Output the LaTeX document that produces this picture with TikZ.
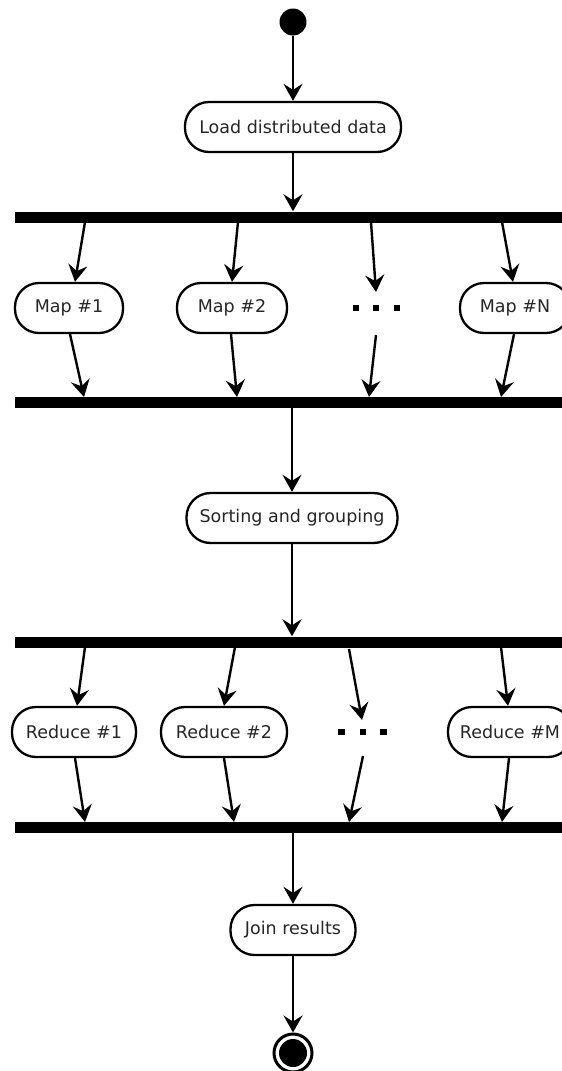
\documentclass[tikz,border=0pt]{standalone}
\usepackage{fontspec}
\setmainfont{DejaVu Sans}
\usetikzlibrary{arrows.meta,calc}
\begin{document}
\begin{tikzpicture}[x=1pt,y=-1pt,
  act/.style={draw,line width=2.3pt,rounded corners=24pt,minimum height=50pt,inner sep=0pt,
              font=\fontsize{17.5}{20}\selectfont,text=black!85},
  bar/.style={fill=black,inner sep=0pt,minimum height=11pt,minimum width=547pt},
  arr/.style={line width=2.4pt,-{Stealth[length=17pt,width=19pt,inset=6pt]}},
  dotsq/.style={fill=black,inner sep=0pt,minimum size=6.5pt}]
\useasboundingbox (0,0) rectangle (562,1071);
\clip (0,0) rectangle (562,1071);

% start
\node[circle,fill=black,minimum size=27pt,inner sep=0pt] (start) at (293,22) {};
\node[act,minimum width=216pt] (load) at (293,127) {Load distributed data};

% bars
\node[bar] (bar1) at (288.5,217) {};
\node[bar] (bar2) at (288.5,402) {};
\node[bar] (bar3) at (288.5,642) {};
\node[bar] (bar4) at (288.5,827) {};

% map nodes
\node[act,minimum width=108pt] (map1) at (69,308) {Map \#1};
\node[act,minimum width=110pt] (map2) at (232,308) {Map \#2};
\node[act,minimum width=110pt] (mapN) at (515,308) {Map \#N};
\node[dotsq] (d1a) at (356,308) {};
\node[dotsq] (d1b) at (376,308) {};
\node[dotsq] (d1c) at (397,308) {};

\node[act,minimum width=211pt] (sort) at (292,518) {Sorting and grouping};

% reduce nodes
\node[act,minimum width=124pt] (red1) at (74,732) {Reduce \#1};
\node[act,minimum width=126pt] (red2) at (224,732) {Reduce \#2};
\node[act,minimum width=124pt] (redM) at (510,732) {Reduce \#M};
\node[dotsq] (d2a) at (341.5,732) {};
\node[dotsq] (d2b) at (363,732) {};
\node[dotsq] (d2c) at (383.5,732) {};

\node[act,minimum width=125pt] (join) at (293,930) {Join results};

% end
\node[circle,draw=black,line width=3pt,minimum size=38pt,inner sep=0pt] (endo) at (293,1053) {};
\node[circle,fill=black,minimum size=28pt,inner sep=0pt] (endi) at (293,1053) {};

% coordinates on bars / near dots
\coordinate (b1a) at (85,222);
\coordinate (b1b) at (238,222);
\coordinate (b1c) at (371,222);
\coordinate (b1d) at (502,222);
\coordinate (d1top) at (376,292);
\coordinate (d1bot) at (376,335);
\coordinate (b2a) at (84,397);
\coordinate (b2b) at (237,397);
\coordinate (b2c) at (369,397);
\coordinate (b2d) at (501,397);

\coordinate (b3a) at (85,647);
\coordinate (b3b) at (235,647);
\coordinate (b3c) at (349,649);
\coordinate (b3d) at (501,647);
\coordinate (d2top) at (362,720);
\coordinate (d2bot) at (363,756);
\coordinate (b4a) at (85,822);
\coordinate (b4b) at (234,822);
\coordinate (b4c) at (349,822);
\coordinate (b4d) at (502,822);

% connectors
\draw[arr] (start) -- (start |- load.north);
\draw[arr] (load.south) -- (load.south |- bar1.north);

\draw[arr] (b1a) -- ([xshift=6pt]map1.north);
\draw[arr] (b1b) -- (map2.north);
\draw[arr] (b1c) -- (d1top);
\draw[arr] (b1d) -- ([xshift=-2pt]mapN.north);
\draw[arr] ([xshift=1pt]map1.south) -- (b2a);
\draw[arr] ([xshift=-1pt]map2.south) -- (b2b);
\draw[arr] (d1bot) -- (b2c);
\draw[arr] ([xshift=-1pt]mapN.south) -- (b2d);

\draw[arr] (sort.north |- bar2.south) -- (sort.north);
\draw[arr] (sort.south) -- (sort.south |- bar3.north);

\draw[arr] (b3a) -- ([xshift=3pt]red1.north);
\draw[arr] (b3b) -- (red2.north);
\draw[arr] (b3c) -- (d2top);
\draw[arr] (b3d) -- ([xshift=-2pt]redM.north);
\draw[arr] ([xshift=1pt]red1.south) -- (b4a);
\draw[arr] (red2.south) -- (b4b);
\draw[arr] (d2bot) -- (b4c);
\draw[arr] ([xshift=-1pt]redM.south) -- (b4d);

\draw[arr] (join.north |- bar4.south) -- (join.north);
\draw[arr] (join.south) -- (endo.north);
\end{tikzpicture}
\end{document}
